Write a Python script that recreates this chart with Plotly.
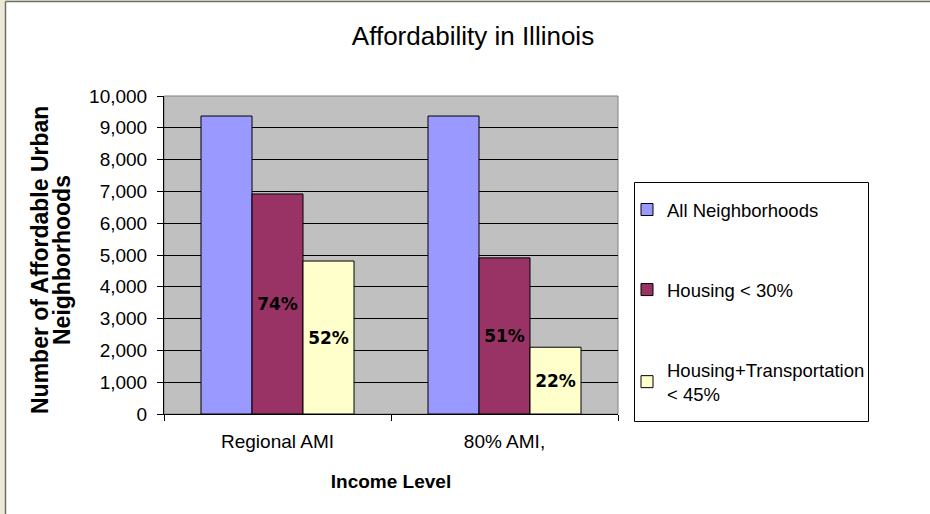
import plotly.graph_objects as go

# ---- data ----
categories = ["Regional AMI", "80% AMI,"]
series_names = ["All Neighborhoods", "Housing < 30%", "Housing+Transportation<br>< 45%"]
all_neighborhoods = [9370, 9370]
housing_30 = [6920, 4910]
housing_transport_45 = [4810, 2100]
housing_30_labels = ["74%", "51%"]
housing_transport_labels = ["52%", "22%"]
y_ticks = list(range(0, 10001, 1000))

W, H = 930, 514
L, R, T, B = 164, 312, 96, 100
PW, PH = W - L - R, H - T - B


def px2x(px):
    return (px - L) / PW


def px2y(py):
    return (H - B - py) / PH


colors = ["#9999ff", "#993366", "#ffffcc"]
values = [all_neighborhoods, housing_30, housing_transport_45]
labels = [None, housing_30_labels, housing_transport_labels]

fig = go.Figure()
for i, (name, vals, col, lab) in enumerate(zip(series_names, values, colors, labels)):
    fig.add_trace(go.Bar(
        x=categories, y=vals, name=name,
        marker=dict(color=col, line=dict(color="black", width=1)),
        text=lab, textposition="inside" if lab else "none",
        insidetextanchor="middle",
        textfont=dict(family="DejaVu Sans", size=17, color="black", weight="bold"),
        legendgroup=f"g{i}",
        hoverinfo="skip",
    ))

ARIAL = "Liberation Sans, Arial, sans-serif"

fig.update_layout(
    width=W, height=H,
    margin=dict(l=L, r=R, t=T, b=B, autoexpand=False),
    paper_bgcolor="white",
    plot_bgcolor="#c0c0c0",
    barmode="group", bargap=0.326, bargroupgap=0,
    font=dict(family=ARIAL, color="black"),
    title=dict(text="Affordability in Illinois", x=0.5086, xanchor="center",
               y=1 - 36 / H, yanchor="middle",
               font=dict(family=ARIAL, size=26, color="black")),
    showlegend=True,
    legend=dict(x=px2x(627), y=px2y(191), xanchor="left", yanchor="top",
                bgcolor="rgba(0,0,0,0)", borderwidth=0,
                font=dict(family=ARIAL, size=18.5, color="black"),
                tracegroupgap=53, itemwidth=30, traceorder="grouped"),
)

fig.update_yaxes(range=[0, 10000], tickvals=y_ticks, tickformat=",",
                 showgrid=True, gridcolor="black", gridwidth=1,
                 showline=True, linecolor="black", linewidth=1,
                 ticks="outside", ticklen=6, tickcolor="black",
                 ticklabelstandoff=6,
                 tickfont=dict(family=ARIAL, size=19, color="black"),
                 zeroline=False)
fig.update_xaxes(showline=True, linecolor="black", linewidth=1,
                 ticks="outside", ticklen=6, tickcolor="black", tickson="boundaries",
                 ticklabelstandoff=10,
                 tickfont=dict(family=ARIAL, size=19, color="black"),
                 title=dict(text="<b>Income Level</b>", standoff=23,
                            font=dict(family=ARIAL, size=19, color="black")))

# y-axis title in two lines
for text, xpx in [("Number of Affordable Urban", 40), ("Neighborhoods", 62)]:
    fig.add_annotation(text=f"<b>{text}</b>", xref="paper", yref="paper",
                       x=px2x(xpx), y=px2y(260), textangle=-90, showarrow=False,
                       xanchor="center", yanchor="middle",
                       font=dict(family=ARIAL, size=23, color="black"))

# plot area border (top/right)
fig.add_shape(type="rect", xref="paper", yref="paper", x0=0, x1=1, y0=0, y1=1,
              line=dict(color="#808080", width=1), layer="below")

# legend frame
fig.add_shape(type="rect", xref="paper", yref="paper",
              x0=px2x(634.5), x1=px2x(868.5), y0=px2y(421.5), y1=px2y(182.5),
              fillcolor="white", line=dict(color="black", width=1))

# outer frame: beige strips and dark line (left & top)
fig.add_shape(type="rect", xref="paper", yref="paper",
              x0=px2x(0), x1=px2x(5), y0=px2y(H), y1=px2y(0),
              fillcolor="#ece9d8", line=dict(width=0))
fig.add_shape(type="rect", xref="paper", yref="paper",
              x0=px2x(0), x1=px2x(W), y0=px2y(1), y1=px2y(0),
              fillcolor="#ece9d8", line=dict(width=0))
fig.add_shape(type="line", xref="paper", yref="paper",
              x0=px2x(5.5), x1=px2x(5.5), y0=px2y(H), y1=px2y(1.5),
              line=dict(color="#716f64", width=1.5))
fig.add_shape(type="line", xref="paper", yref="paper",
              x0=px2x(5.5), x1=px2x(W), y0=px2y(1.5), y1=px2y(1.5),
              line=dict(color="#716f64", width=1.5))

fig.write_html("out.html",
               config={"displayModeBar": False},
               post_script="document.body.style.margin='0';"
                           "document.body.style.overflow='hidden';")
